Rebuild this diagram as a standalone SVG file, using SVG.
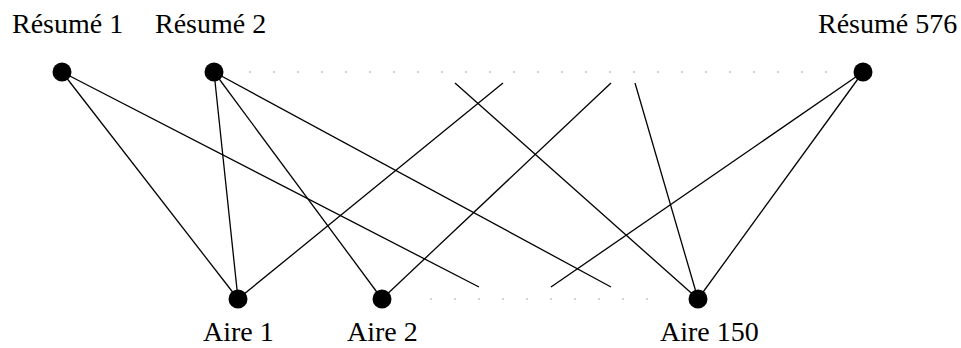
<svg xmlns="http://www.w3.org/2000/svg" width="961" height="348" viewBox="0 0 961 348">
<style>
.n{fill:#000}
.e{stroke:#000;stroke-width:1.3;fill:none}
.d{stroke:#666;stroke-width:1.2;fill:none;stroke-dasharray:1.2 22.8}
text{font-family:"Liberation Serif","Times New Roman",serif;font-size:28px;fill:#000}
</style>
<rect width="961" height="348" fill="#fff"/>
<g id="connectors">
<line class="e" x1="62" y1="72" x2="238" y2="299"/>
<line class="e" x1="62" y1="72" x2="479" y2="287"/>
<line class="e" x1="214" y1="72" x2="238" y2="299"/>
<line class="e" x1="214" y1="72" x2="382" y2="299"/>
<line class="e" x1="214" y1="72" x2="611" y2="287"/>
<line class="e" x1="238" y1="299" x2="503" y2="83"/>
<line class="e" x1="382" y1="299" x2="611" y2="83"/>
<line class="e" x1="455" y1="83" x2="698" y2="299"/>
<line class="e" x1="635" y1="83" x2="698" y2="299"/>
<line class="e" x1="863" y1="72" x2="698" y2="299"/>
<line class="e" x1="863" y1="72" x2="551" y2="287"/>
<line class="d" x1="249.4" y1="72" x2="840" y2="72"/>
<line class="d" x1="430.4" y1="299" x2="660" y2="299"/>
</g>
<g id="resume1"><circle class="n" cx="62" cy="72" r="9.5"/><text x="12" y="33">Résumé 1</text></g>
<g id="resume2"><circle class="n" cx="214" cy="72" r="9.5"/><text x="155" y="33">Résumé 2</text></g>
<g id="resume576"><circle class="n" cx="863" cy="72" r="9.5"/><text x="818" y="33">Résumé 576</text></g>
<g id="aire1"><circle class="n" cx="238" cy="299" r="9.5"/><text x="203" y="341">Aire 1</text></g>
<g id="aire2"><circle class="n" cx="382" cy="299" r="9.5"/><text x="347" y="341">Aire 2</text></g>
<g id="aire150"><circle class="n" cx="698" cy="299" r="9.5"/><text x="660" y="341">Aire 150</text></g>
</svg>
